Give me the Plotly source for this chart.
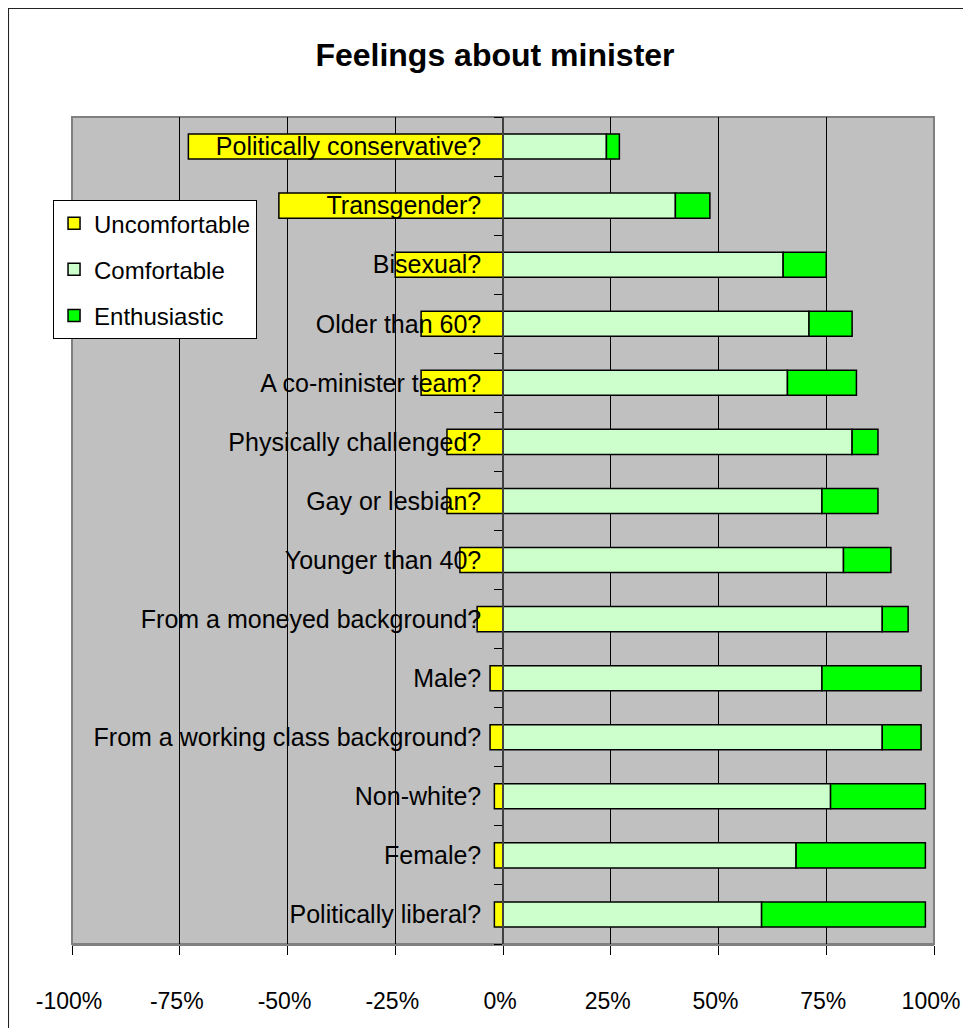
import plotly.graph_objects as go

categories = [
    "Politically conservative?", "Transgender?", "Bisexual?", "Older than 60?",
    "A co-minister team?", "Physically challenged?", "Gay or lesbian?",
    "Younger than 40?", "From a moneyed background?", "Male?",
    "From a working class background?", "Non-white?", "Female?",
    "Politically liberal?",
]
uncomfortable = [-73, -52, -25, -19, -19, -13, -13, -10, -6, -3, -3, -2, -2, -2]
comfortable = [24, 40, 65, 71, 66, 81, 74, 79, 88, 74, 88, 76, 68, 60]
enthusiastic = [3, 8, 10, 10, 16, 6, 13, 11, 6, 23, 9, 22, 30, 38]

x_ticks = [-100, -75, -50, -25, 0, 25, 50, 75, 100]
x_labels = ["-100%", "-75%", "-50%", "-25%", "0%", "25%", "50%", "75%", "100%"]

font = "Liberation Sans, Arial, sans-serif"

fig = go.Figure()

series = [
    ("Uncomfortable", uncomfortable, "#FFFF00"),
    ("Comfortable", comfortable, "#CCFFCC"),
    ("Enthusiastic", enthusiastic, "#00FF00"),
]
for name, vals, col in series:
    fig.add_trace(go.Bar(
        name=name, y=categories, x=vals, orientation="h",
        marker=dict(color=col, line=dict(color="black", width=1.5)),
        legendgroup=name,
    ))

# the page body has an 8px margin on every side, keep the figure inside the window
fig.update_layout(
    width=955, height=1020,
    margin=dict(l=64, r=29, t=109, b=84, autoexpand=False),
    barmode="relative",
    bargap=0.575,
    paper_bgcolor="white",
    plot_bgcolor="#C0C0C0",
    font=dict(family=font, size=24, color="black"),
    title=dict(text="<b>Feelings about minister</b>", xref="paper", x=0.4907,
               xanchor="center", y=0.954, yanchor="middle",
               font=dict(size=32, color="black")),
    legend=dict(x=-0.022, y=0.8996, xanchor="left", yanchor="top",
                bgcolor="white", bordercolor="black", borderwidth=1,
                font=dict(size=24), traceorder="grouped", tracegroupgap=12,
                itemwidth=30),
    showlegend=True,
)

# labels nudged left a touch so "100%" stays inside the page
fig.update_xaxes(
    range=[-100, 100], tickvals=x_ticks, ticktext=x_labels,
    showgrid=True, gridcolor="black", gridwidth=1, zeroline=False,
    showline=True, linecolor="#808080", linewidth=2,
    ticks="outside", ticklen=9, tickcolor="black", ticklabelstandoff=26,
    ticklabelshift=-3, tickfont=dict(size=23), ticklabeloverflow="allow",
    automargin=False,
)
fig.update_yaxes(
    type="category", categoryorder="array", categoryarray=categories[::-1],
    anchor="free", position=0.5, automargin=False,
    showline=True, linecolor="#404040", linewidth=1.5,
    ticks="outside", tickson="boundaries", ticklen=8, tickcolor="black",
    showgrid=False, ticklabelstandoff=16, tickfont=dict(size=25),
)

# plot area border and outer chart frame
fig.add_shape(type="rect", xref="paper", yref="paper", x0=0, y0=0, x1=1, y1=1,
              line=dict(color="#808080", width=2), layer="below")
fig.add_shape(type="rect", xref="paper", yref="paper", x0=-0.0742, y0=-0.3,
              x1=1.2, y1=1.1318, line=dict(color="#222222", width=2))

fig.write_html("out.html")
